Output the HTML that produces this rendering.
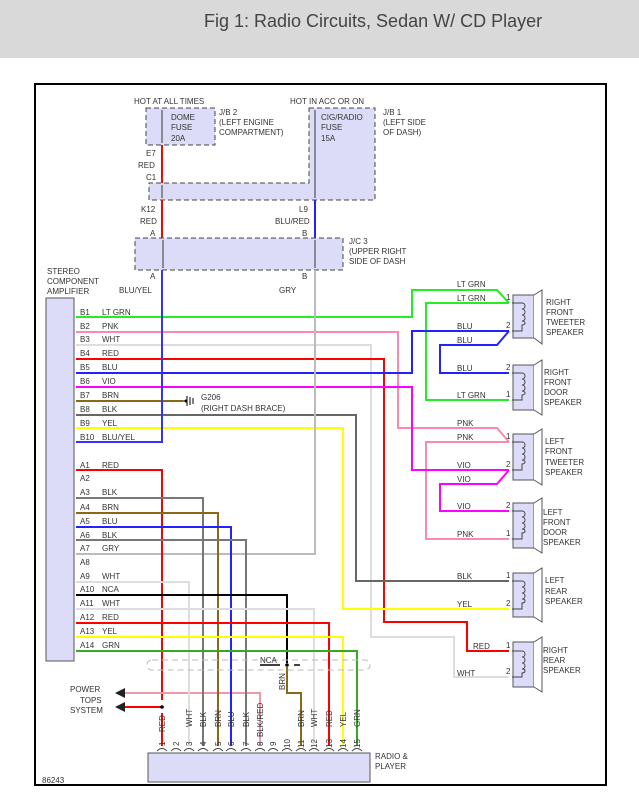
<!DOCTYPE html>
<html><head><meta charset="utf-8"><style>
body{margin:0;background:#fff;width:639px;height:800px;overflow:hidden;font-family:"Liberation Sans",sans-serif}
.hdr{position:absolute;left:0;top:0;width:639px;height:58px;background:#d9d9d9}
.hdr div{position:absolute;left:204px;top:11px;font-size:18px;color:#444}
svg{position:absolute;left:0;top:0}
text{font-family:"Liberation Sans",sans-serif;font-size:8px;fill:#333}
</style></head><body>
<div class="hdr"><div>Fig 1: Radio Circuits, Sedan W/ CD Player</div></div>
<svg width="639" height="800" viewBox="0 0 639 800">
<rect x="35" y="84" width="571" height="701" fill="none" stroke="#000" stroke-width="2"/>
<g fill="#dcdcf8" stroke="#444" stroke-dasharray="5,3">
<rect x="146" y="108" width="69" height="37"/>
<path d="M309 108 H375 V200 H149 V183 H309 Z"/>
<rect x="135" y="238" width="208" height="32"/>
</g>
<g stroke="#333" fill="none">
<path d="M162 110 V143 M315 110 V198 M162 185 V198 M163 240 V268 M315 240 V268"/>
</g>
<g font-size="8">
<text x="134" y="104">HOT AT ALL TIMES</text>
<text x="290" y="104">HOT IN ACC OR ON</text>
<text x="171" y="120">DOME</text><text x="171" y="130">FUSE</text><text x="171" y="141">20A</text>
<text x="219" y="115">J/B 2</text><text x="219" y="125">(LEFT ENGINE</text><text x="219" y="135">COMPARTMENT)</text>
<text x="321" y="120">CIG/RADIO</text><text x="321" y="130">FUSE</text><text x="321" y="141">15A</text>
<text x="383" y="115">J/B 1</text><text x="383" y="125">(LEFT SIDE</text><text x="383" y="135">OF DASH)</text>
<text x="146" y="156">E7</text><text x="138" y="168">RED</text><text x="146" y="180">C1</text>
<text x="141" y="212">K12</text><text x="140" y="224">RED</text><text x="150" y="236">A</text>
<text x="299" y="212">L9</text><text x="275" y="224">BLU/RED</text><text x="302" y="236">B</text>
<text x="349" y="244">J/C 3</text><text x="349" y="254">(UPPER RIGHT</text><text x="349" y="264">SIDE OF DASH</text>
<text x="150" y="279">A</text><text x="302" y="279">B</text>
<text x="119" y="293">BLU/YEL</text><text x="279" y="293">GRY</text>
<text x="47" y="274">STEREO</text><text x="47" y="284">COMPONENT</text><text x="47" y="294">AMPLIFIER</text>
</g>
<path d="M162 145 V183 M162 200 V238" stroke="#f00" stroke-width="2"/>
<path d="M315 200 V238" stroke="#22f" stroke-width="2"/>
<rect x="46" y="298" width="28" height="363" fill="#dcdcf8" stroke="#555"/>
<g fill="none" stroke-width="2">
<path d="M76 317 H412 V290 H497 L509 303" stroke="#2e2"/>
<path d="M509 303 H426 V400 H509" stroke="#2e2"/>
<path d="M76 332 H398 V428 H497 L509 442" stroke="#f8a"/>
<path d="M509 442 H426 V539 H509" stroke="#f8a"/>
<path d="M76 345 H371 V637 H454 V677 H509" stroke="#ddd"/>
<path d="M76 359 H384 V622 H467 V651 H509" stroke="#f00"/>
<path d="M76 373 H412 V331 H509" stroke="#22f"/>
<path d="M509 331 L497 345 H440 V373 H509" stroke="#22f"/>
<path d="M76 387 H412 V470 H509" stroke="#f0f"/>
<path d="M509 470 L497 484 H440 V511 H509" stroke="#f0f"/>
<path d="M76 401 H183" stroke="#8b6914"/>
<path d="M76 415 H356 V581 H509" stroke="#666"/>
<path d="M76 428 H343 V609 H509" stroke="#ff0"/>
<path d="M76 442 H162 V270" stroke="#33f"/>
<path d="M315 270 V554 H76" stroke="#bbb"/>
<path d="M76 470 H162 V700 M162 713 V746" stroke="#f00"/>
<path d="M162 707 H125" stroke="#f00"/>
<path d="M260 746 V693 H125" stroke="#e9a"/>
<path d="M76 498 H203 V746" stroke="#777"/>
<path d="M76 513 H218 V746" stroke="#8b6914"/>
<path d="M76 527 H231 V746" stroke="#22f"/>
<path d="M76 540 H246 V746" stroke="#777"/>
<path d="M76 582 H189 V746" stroke="#ddd"/>
<path d="M76 595 H287 V663" stroke="#000"/>
<path d="M287 667 V693 H301 V746" stroke="#8b6914"/>
<path d="M76 609 H314 V746" stroke="#ddd"/>
<path d="M76 623 H329 V746" stroke="#f00"/>
<path d="M76 637 H343 V746" stroke="#ff0"/>
<path d="M76 651 H357 V746" stroke="#3a2"/>
</g>
<g fill="none" stroke="#444">
<path d="M157 751 q5 -5 10 0 M171 751 q5 -5 10 0 M184 751 q5 -5 10 0 M198 751 q5 -5 10 0 M213 751 q5 -5 10 0 M226 751 q5 -5 10 0 M241 751 q5 -5 10 0 M255 751 q5 -5 10 0 M268 751 q5 -5 10 0 M282 751 q5 -5 10 0 M296 751 q5 -5 10 0 M309 751 q5 -5 10 0 M324 751 q5 -5 10 0 M338 751 q5 -5 10 0 M352 751 q5 -5 10 0"/>
</g>
<path d="M115 693 l10 -5 v10 z M115 707 l10 -5 v10 z" fill="#222"/>
<circle cx="162" cy="707" r="1.8" fill="#000"/><circle cx="287" cy="665" r="1.8" fill="#000"/>
<path d="M260 665 H280 M294 665 H300" stroke="#000" stroke-width="1.5"/>
<rect x="147" y="660" width="223" height="10" rx="5" fill="none" stroke="#bbb" stroke-dasharray="6,4"/>
<g stroke="#000"><path d="M183 401 h3 M187 396 v10 M190 397 v8 M193 398 v6"/></g>
<circle cx="186" cy="401" r="1.5"/>
<g font-size="8">
<text x="201" y="400">G206</text><text x="201" y="411">(RIGHT DASH BRACE)</text>
<text x="260" y="663">NCA</text>
<text x="70" y="692">POWER</text><text x="80" y="703">TOPS</text><text x="70" y="713">SYSTEM</text>
</g>
<g font-size="8">
<text x="80" y="315">B1</text><text x="102" y="315">LT GRN</text>
<text x="80" y="329">B2</text><text x="102" y="329">PNK</text>
<text x="80" y="342">B3</text><text x="102" y="342">WHT</text>
<text x="80" y="356">B4</text><text x="102" y="356">RED</text>
<text x="80" y="370">B5</text><text x="102" y="370">BLU</text>
<text x="80" y="384">B6</text><text x="102" y="384">VIO</text>
<text x="80" y="398">B7</text><text x="102" y="398">BRN</text>
<text x="80" y="412">B8</text><text x="102" y="412">BLK</text>
<text x="80" y="426">B9</text><text x="102" y="426">YEL</text>
<text x="80" y="440">B10</text><text x="102" y="440">BLU/YEL</text>
<text x="80" y="468">A1</text><text x="102" y="468">RED</text>
<text x="80" y="481">A2</text>
<text x="80" y="495">A3</text><text x="102" y="495">BLK</text>
<text x="80" y="510">A4</text><text x="102" y="510">BRN</text>
<text x="80" y="524">A5</text><text x="102" y="524">BLU</text>
<text x="80" y="538">A6</text><text x="102" y="538">BLK</text>
<text x="80" y="551">A7</text><text x="102" y="551">GRY</text>
<text x="80" y="565">A8</text>
<text x="80" y="579">A9</text><text x="102" y="579">WHT</text>
<text x="80" y="592">A10</text><text x="102" y="592">NCA</text>
<text x="80" y="606">A11</text><text x="102" y="606">WHT</text>
<text x="80" y="620">A12</text><text x="102" y="620">RED</text>
<text x="80" y="634">A13</text><text x="102" y="634">YEL</text>
<text x="80" y="648">A14</text><text x="102" y="648">GRN</text>
</g>
<rect x="148" y="753" width="222" height="29" fill="#dcdcf8" stroke="#555"/>
<text x="375" y="759">RADIO &amp;</text><text x="375" y="769">PLAYER</text>
<text x="42" y="783" font-size="7">86243</text>
<g font-size="8">
<g transform="rotate(-90)">
<text x="-746" y="165">1</text><text x="-732" y="165">RED</text>
<text x="-746" y="179">2</text>
<text x="-746" y="192">3</text><text x="-727" y="192">WHT</text>
<text x="-746" y="206">4</text><text x="-727" y="206">BLK</text>
<text x="-746" y="221">5</text><text x="-727" y="221">BRN</text>
<text x="-746" y="234">6</text><text x="-727" y="234">BLU</text>
<text x="-746" y="249">7</text><text x="-727" y="249">BLK</text>
<text x="-746" y="263">8</text><text x="-737" y="263">BLK/RED</text>
<text x="-746" y="276">9</text>
<text x="-748" y="290">10</text>
<text x="-748" y="304">11</text><text x="-727" y="304">BRN</text>
<text x="-748" y="317">12</text><text x="-727" y="317">WHT</text>
<text x="-748" y="332">13</text><text x="-727" y="332">RED</text>
<text x="-748" y="346">14</text><text x="-727" y="346">YEL</text>
<text x="-748" y="360">15</text><text x="-727" y="360">GRN</text>
<text x="-690" y="285">BRN</text>
</g></g>
<g fill="#dcdcf8" stroke="#555">
<rect x="513" y="295" width="21" height="43"/><path d="M534 295 L542 290 V344 L534 338" fill="#fff"/>
<rect x="513" y="365" width="21" height="45"/><path d="M534 365 L542 360 V415 L534 410" fill="#fff"/>
<rect x="513" y="434" width="21" height="46"/><path d="M534 434 L542 429 V485 L534 480" fill="#fff"/>
<rect x="513" y="503" width="21" height="45"/><path d="M534 503 L542 498 V553 L534 548" fill="#fff"/>
<rect x="513" y="573" width="21" height="44"/><path d="M534 573 L542 568 V622 L534 617" fill="#fff"/>
<rect x="513" y="642" width="21" height="45"/><path d="M534 642 L542 637 V692 L534 687" fill="#fff"/>
</g>
<g fill="none" stroke="#444">
<path d="M512 303 H522 c4 0 4 6 0 6 c4 0 4 6 0 6 c4 0 4 6 0 6 c4 0 4 4 0 4 V331 H512"/>
<path d="M512 373 H522 c4 0 4 6 0 6 c4 0 4 6 0 6 c4 0 4 6 0 6 c4 0 4 4 0 4 V400 H512"/>
<path d="M512 442 H522 c4 0 4 6 0 6 c4 0 4 6 0 6 c4 0 4 6 0 6 c4 0 4 4 0 4 V470 H512"/>
<path d="M512 511 H522 c4 0 4 6 0 6 c4 0 4 6 0 6 c4 0 4 6 0 6 c4 0 4 4 0 4 V539 H512"/>
<path d="M512 581 H522 c4 0 4 6 0 6 c4 0 4 6 0 6 c4 0 4 6 0 6 c4 0 4 4 0 4 V609 H512"/>
<path d="M512 651 H522 c4 0 4 6 0 6 c4 0 4 6 0 6 c4 0 4 6 0 6 c4 0 4 4 0 4 V677 H512"/>
</g>
<g font-size="8">
<text x="506" y="300">1</text><text x="506" y="328">2</text>
<text x="506" y="370">2</text><text x="506" y="397">1</text>
<text x="506" y="439">1</text><text x="506" y="467">2</text>
<text x="506" y="508">2</text><text x="506" y="536">1</text>
<text x="506" y="578">1</text><text x="506" y="606">2</text>
<text x="506" y="648">1</text><text x="506" y="674">2</text>
<text x="457" y="287">LT GRN</text><text x="457" y="301">LT GRN</text>
<text x="457" y="329">BLU</text><text x="457" y="343">BLU</text>
<text x="457" y="371">BLU</text><text x="457" y="398">LT GRN</text>
<text x="457" y="426">PNK</text><text x="457" y="440">PNK</text>
<text x="457" y="468">VIO</text><text x="457" y="482">VIO</text>
<text x="457" y="509">VIO</text><text x="457" y="537">PNK</text>
<text x="457" y="579">BLK</text><text x="457" y="607">YEL</text>
<text x="473" y="649">RED</text><text x="457" y="676">WHT</text>
<text x="546" y="305">RIGHT</text><text x="546" y="315">FRONT</text><text x="546" y="325">TWEETER</text><text x="546" y="335">SPEAKER</text>
<text x="544" y="375">RIGHT</text><text x="544" y="385">FRONT</text><text x="544" y="395">DOOR</text><text x="544" y="405">SPEAKER</text>
<text x="545" y="444">LEFT</text><text x="545" y="454">FRONT</text><text x="545" y="465">TWEETER</text><text x="545" y="475">SPEAKER</text>
<text x="543" y="515">LEFT</text><text x="543" y="525">FRONT</text><text x="543" y="535">DOOR</text><text x="543" y="545">SPEAKER</text>
<text x="545" y="583">LEFT</text><text x="545" y="594">REAR</text><text x="545" y="604">SPEAKER</text>
<text x="543" y="653">RIGHT</text><text x="543" y="663">REAR</text><text x="543" y="673">SPEAKER</text>
</g>
</svg>
</body></html>
